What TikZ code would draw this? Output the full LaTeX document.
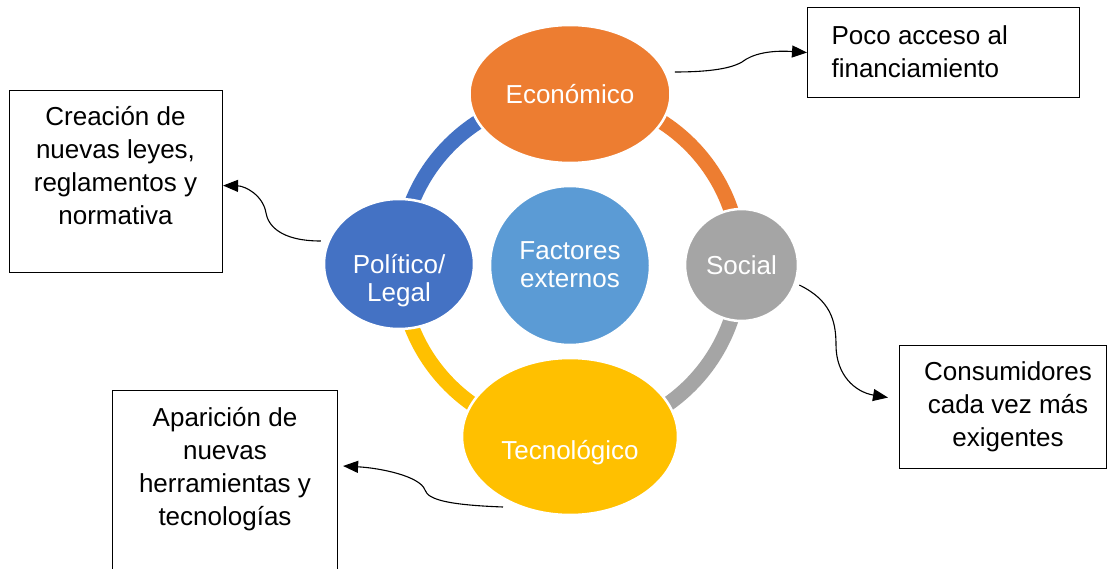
\documentclass[tikz,border=0pt]{standalone}
\usepackage{fontspec}
\setmainfont{Liberation Sans}
\usetikzlibrary{arrows.meta,shapes.geometric}
\definecolor{cOrange}{HTML}{ED7D31}
\definecolor{cGrey}{HTML}{A5A5A5}
\definecolor{cGold}{HTML}{FFC000}
\definecolor{cBlue}{HTML}{4472C4}
\definecolor{cLight}{HTML}{5B9BD5}
\tikzset{
  ringseg/.style={line width=15pt},
  blob/.style={ellipse, draw=white, line width=2.5pt, inner sep=0pt},
  blobtxt/.style={text=white, align=center, font=\fontsize{26}{28}\selectfont},
  box/.style={rectangle, draw=black, line width=1.1pt, inner sep=0pt, anchor=north west},
  boxtxt/.style={align=center, font=\fontsize{26}{33}\selectfont},
  conn/.style={draw=black, line width=1.1pt, -{Triangle[length=15pt,width=12pt]}}
}
\begin{document}
\begin{tikzpicture}[x=1pt,y=-1pt]
\useasboundingbox (0,0) rectangle (1108,569);
\fill[white] (0,0) rectangle (1108,569);
% ring
\coordinate (ctr) at (570,265);
\draw[ringseg, cOrange] (570,95) arc[start angle=-90, end angle=0, radius=170];
\draw[ringseg, cGrey] (740,265) arc[start angle=0, end angle=90, radius=170];
\draw[ringseg, cGold] (570,435) arc[start angle=90, end angle=180, radius=170];
\draw[ringseg, cBlue] (400,265) arc[start angle=180, end angle=270, radius=170];
% blobs
\node[blob, fill=cOrange, minimum width=201pt, minimum height=138pt] (econ) at (570,94) {};
\node[blobtxt] (econtxt) at (570,94) {Económico};
\node[blob, fill=cGrey, minimum width=113pt, minimum height=112pt] (soc) at (741.5,265) {};
\node[blobtxt] (soctxt) at (741.5,265) {Social};
\node[blob, fill=cGold, minimum width=216pt, minimum height=157pt] (tech) at (570,436.5) {};
\node[blobtxt] (techtxt) at (570,453) {Tecnológico};
\node[blob, fill=cBlue, minimum width=150pt, minimum height=130pt] (pol) at (399,264) {};
\node[blobtxt] (poltxt) at (399,281) {Político/\\Legal};
\node[blob, fill=cLight, minimum width=160pt, minimum height=159pt] (fac) at (570,265.5) {};
\node[blobtxt] (factxt) at (570,265) {Factores\\externos};
% boxes
\node[box, minimum width=272pt, minimum height=90pt] (box1) at (807,7) {};
\node[align=left, anchor=west, font=\fontsize{26}{33}\selectfont] (box1txt) at (828,51.5) {Poco acceso al\\financiamiento};
\node[box, minimum width=213pt, minimum height=182pt] (box2) at (9,90) {};
\node[boxtxt] (box2txt) at (115.5,166) {Creación de\\nuevas leyes,\\reglamentos y\\normativa};
\node[box, minimum width=225pt, minimum height=200pt] (box3) at (112,390) {};
\node[boxtxt] (box3txt) at (225,469) {Aparición de\\nuevas\\herramientas y\\tecnologías};
\node[box, minimum width=207pt, minimum height=123pt] (box4) at (899,345) {};
\node[boxtxt] (box4txt) at (1008,406.5) {Consumidores\\cada vez más\\exigentes};
% connectors
\draw[conn] ([xshift=3pt,yshift=22pt]econ.east) .. controls (720,72) and (735,66) .. (742,62) .. controls (752,54) and (770,50) .. (box1.west);
\draw[conn] ([xshift=-2pt,yshift=23pt]pol.west) .. controls (280,241) and (268,225) .. (266,213) .. controls (263,195) and (245,186) .. ([yshift=-4pt]box2.east);
\draw[conn] ([xshift=-67pt,yshift=-70.5pt]tech.center) .. controls (450,505) and (428,500) .. (425,490) .. controls (420,476) and (380,468) .. ([xshift=5pt,yshift=-76pt]box3.north east);
\draw[conn] ([yshift=-20pt]soc.east) .. controls (830,300) and (836,320) .. (836,345) .. controls (836,375) and (855,392) .. ([xshift=-11pt,yshift=9.5pt]box4.west);
\end{tikzpicture}
\end{document}
